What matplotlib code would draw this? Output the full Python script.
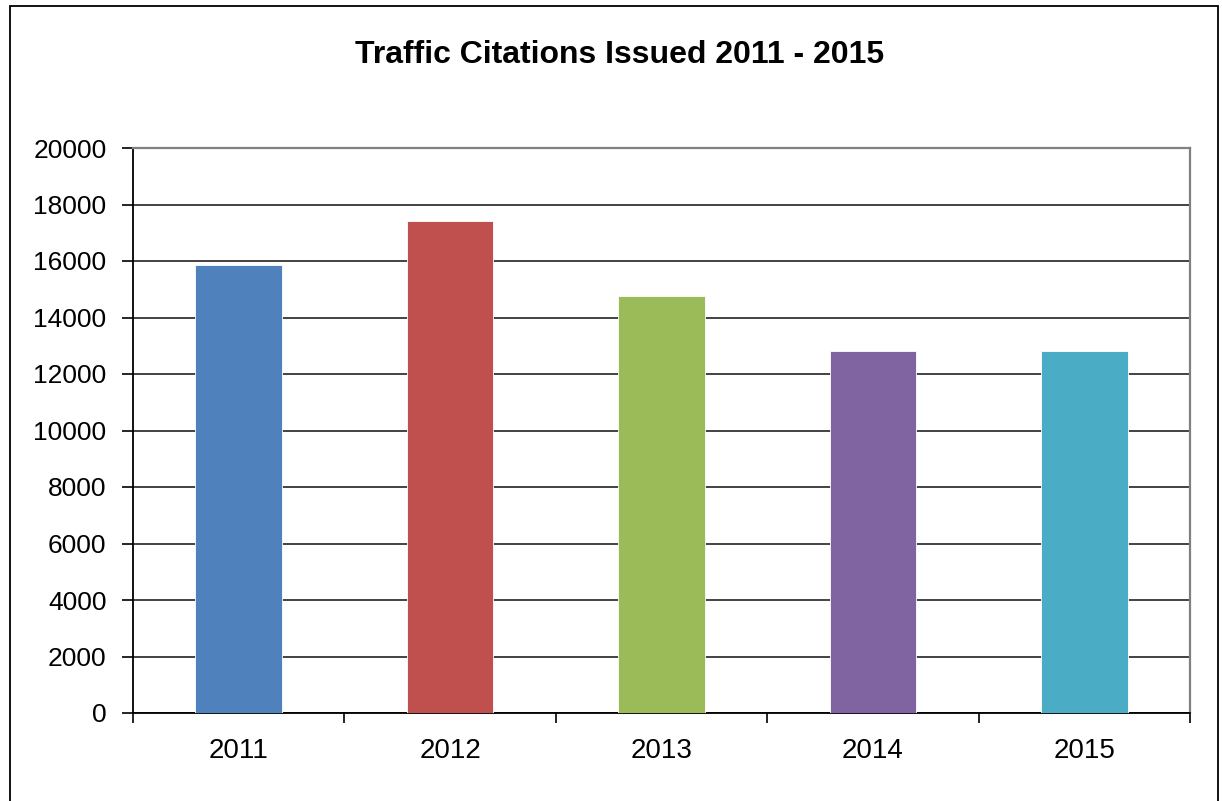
import matplotlib
matplotlib.use("Agg")
import matplotlib.pyplot as plt
import matplotlib.patches as mpatches
import numpy as np

plt.rcParams['font.family'] = ['Liberation Sans', 'DejaVu Sans']

years = ['2011', '2012', '2013', '2014', '2015']
citations = [15850, 17430, 14750, 12830, 12830]
colors = ['#4F81BD', '#C0504D', '#9BBB59', '#8064A2', '#4BACC6']
yticks = list(range(0, 20001, 2000))

fig = plt.figure(figsize=(12.22, 8.01), dpi=100)
# outer chart border
border = mpatches.Rectangle((10 / 1222, -0.05), 1208 / 1222, 1 - 6 / 801 + 0.05,
                            transform=fig.transFigure, fill=False,
                            edgecolor='black', linewidth=1.3)
fig.patches.append(border)

ax = fig.add_axes([133 / 1222, 1 - 713 / 801, (1190 - 133) / 1222, (713 - 148) / 801])
x = np.arange(len(years))
ax.bar(x, citations, width=0.41, color=colors, edgecolor='white', linewidth=0.6, zorder=3)

ax.set_xlim(-0.5, len(years) - 0.5)
ax.set_ylim(0, 20000)
ax.set_yticks(yticks)
ax.set_yticklabels([str(v) for v in yticks], fontsize=19)
ax.yaxis.grid(True, color='#222222', linewidth=1.2, zorder=0)
ax.set_axisbelow(True)

# category labels in the middle, ticks on the boundaries
ax.set_xticks(x)
ax.set_xticklabels(years, fontsize=20)
ax.tick_params(axis='x', length=0, pad=18)
ax.set_xticks(np.arange(-0.5, len(years)), minor=True)
ax.tick_params(axis='x', which='minor', length=7, width=1.2, direction='out')
ax.tick_params(axis='y', length=8, width=1.2, direction='out', pad=11)

for s in ['left', 'bottom']:
    ax.spines[s].set_color('black')
    ax.spines[s].set_linewidth(1.3)
for s in ['top', 'right']:
    ax.spines[s].set_color('#808080')
    ax.spines[s].set_linewidth(1.6)

fig.text(620 / 1222, 1 - 55 / 801, 'Traffic Citations Issued 2011 - 2015', ha='center', va='center',
         fontsize=23, fontweight='bold')

fig.savefig('out.png', dpi=100)
